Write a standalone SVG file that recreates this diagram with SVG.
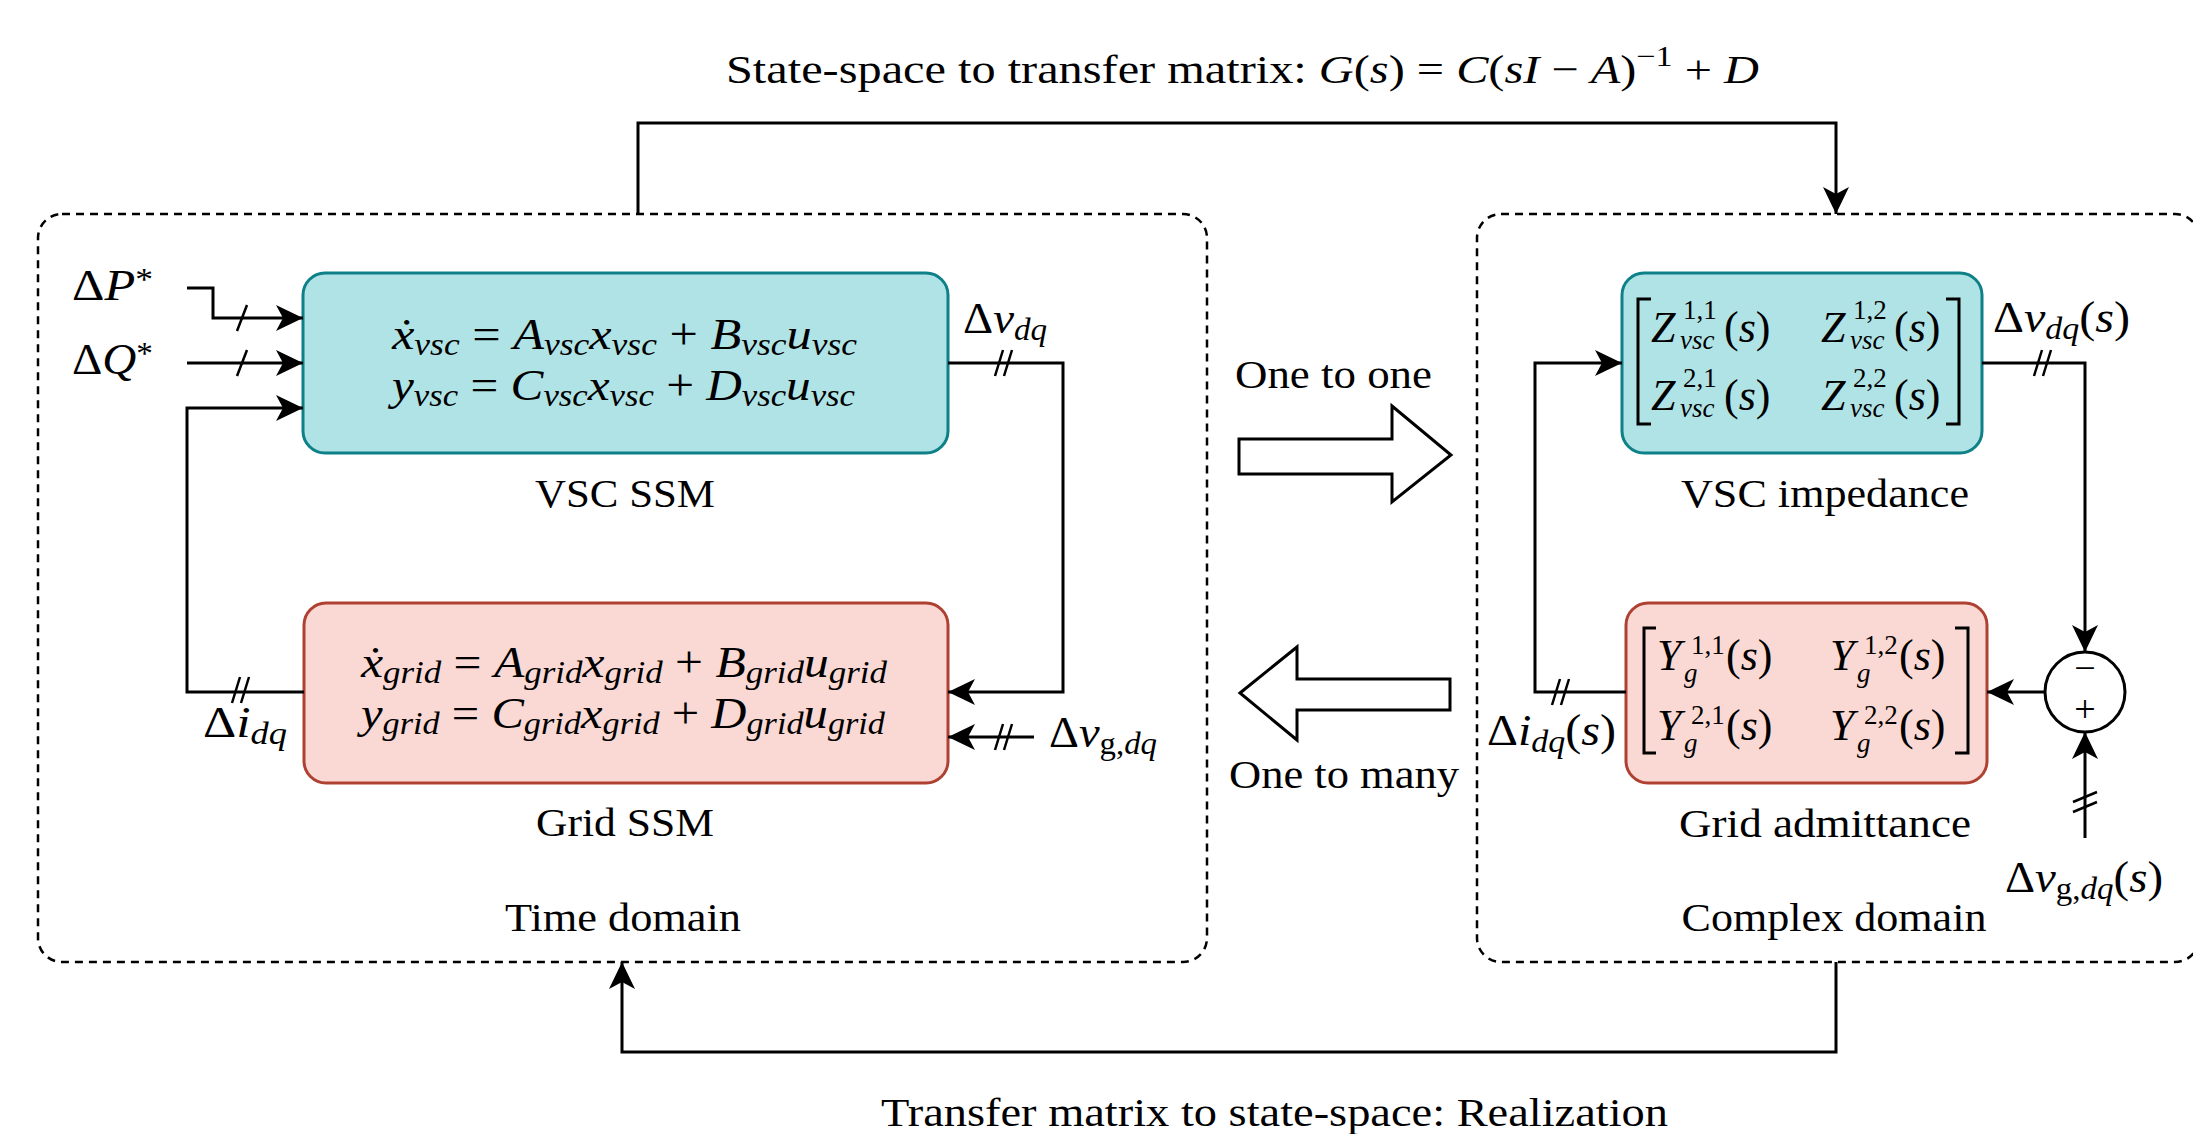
<svg xmlns="http://www.w3.org/2000/svg" width="2193" height="1134" viewBox="0 0 2193 1134" font-family="'Liberation Serif', 'Times New Roman', 'DejaVu Serif', serif">
<style>
.t{font-family:'Liberation Serif','Times New Roman','DejaVu Serif',serif;fill:#000}
.lbl{font-size:41px}
.m{font-size:44px}
.i{font-style:italic}
.s{font-size:31px}
.ss{font-size:27px}
.sp{font-size:29px}
.cont{fill:none;stroke:#000;stroke-width:2.5;stroke-dasharray:8 6}
.vsc{fill:#b0e3e6;stroke:#0e8088;stroke-width:3}
.grid{fill:#fad9d5;stroke:#ae4132;stroke-width:3}
.c{fill:none;stroke:#000;stroke-width:3;marker-end:url(#ah)}
.tick{fill:none;stroke:#000;stroke-width:2.5}
.br{fill:none;stroke:#000;stroke-width:3}
.blk{fill:#fff;stroke:#000;stroke-width:3;stroke-linejoin:miter}
</style>
<defs>
<marker id="ah" viewBox="-30 -15 32 30" markerWidth="32" markerHeight="30" refX="0" refY="0" orient="auto" markerUnits="userSpaceOnUse" overflow="visible">
<path d="M0,0 L-27,-13 L-20,0 L-27,13 Z" fill="#000"/>
</marker>
</defs>
<rect width="2193" height="1134" fill="#fff"/>

<g id="titles">
<text class="t lbl" x="726" y="83" textLength="1033" lengthAdjust="spacingAndGlyphs">State-space to transfer matrix:  <tspan class="i">G</tspan>(<tspan class="i">s</tspan>) = <tspan class="i">C</tspan>(<tspan class="i">sI</tspan> − <tspan class="i">A</tspan>)<tspan class="sp" dy="-17">−1</tspan><tspan dy="17"> + </tspan><tspan class="i">D</tspan></text>
<text class="t lbl" x="881" y="1126" textLength="787" lengthAdjust="spacingAndGlyphs">Transfer matrix to state-space:  Realization</text>
</g>

<g id="time-domain">
<rect class="cont" x="38" y="214" width="1169" height="748" rx="24"/>
<text class="t lbl" x="623" y="931" text-anchor="middle" textLength="236" lengthAdjust="spacingAndGlyphs">Time domain</text>
</g>

<g id="complex-domain">
<rect class="cont" x="1477" y="214" width="722" height="748" rx="24"/>
<text class="t lbl" x="1834" y="931" text-anchor="middle" textLength="305" lengthAdjust="spacingAndGlyphs">Complex domain</text>
</g>

<g id="vsc-ssm">
<rect class="vsc" x="303" y="273" width="645" height="180" rx="22"/>
<text class="t m" x="392" y="349" textLength="465" lengthAdjust="spacingAndGlyphs"><tspan class="i">ẋ</tspan><tspan class="i s" dy="6">vsc</tspan><tspan dy="-6"> = </tspan><tspan class="i">A</tspan><tspan class="i s" dy="6">vsc</tspan><tspan class="i" dy="-6">x</tspan><tspan class="i s" dy="6">vsc</tspan><tspan dy="-6"> + </tspan><tspan class="i">B</tspan><tspan class="i s" dy="6">vsc</tspan><tspan class="i" dy="-6">u</tspan><tspan class="i s" dy="6">vsc</tspan></text>
<text class="t m" x="392" y="400" textLength="463" lengthAdjust="spacingAndGlyphs"><tspan class="i">y</tspan><tspan class="i s" dy="6">vsc</tspan><tspan dy="-6"> = </tspan><tspan class="i">C</tspan><tspan class="i s" dy="6">vsc</tspan><tspan class="i" dy="-6">x</tspan><tspan class="i s" dy="6">vsc</tspan><tspan dy="-6"> + </tspan><tspan class="i">D</tspan><tspan class="i s" dy="6">vsc</tspan><tspan class="i" dy="-6">u</tspan><tspan class="i s" dy="6">vsc</tspan></text>
<text class="t lbl" x="625" y="507" text-anchor="middle" textLength="180" lengthAdjust="spacingAndGlyphs">VSC SSM</text>
</g>

<g id="grid-ssm">
<rect class="grid" x="304" y="603" width="644" height="180" rx="22"/>
<text class="t m" x="361" y="677" textLength="526" lengthAdjust="spacingAndGlyphs"><tspan class="i">ẋ</tspan><tspan class="i s" dy="6">grid</tspan><tspan dy="-6"> = </tspan><tspan class="i">A</tspan><tspan class="i s" dy="6">grid</tspan><tspan class="i" dy="-6">x</tspan><tspan class="i s" dy="6">grid</tspan><tspan dy="-6"> + </tspan><tspan class="i">B</tspan><tspan class="i s" dy="6">grid</tspan><tspan class="i" dy="-6">u</tspan><tspan class="i s" dy="6">grid</tspan></text>
<text class="t m" x="361" y="728" textLength="524" lengthAdjust="spacingAndGlyphs"><tspan class="i">y</tspan><tspan class="i s" dy="6">grid</tspan><tspan dy="-6"> = </tspan><tspan class="i">C</tspan><tspan class="i s" dy="6">grid</tspan><tspan class="i" dy="-6">x</tspan><tspan class="i s" dy="6">grid</tspan><tspan dy="-6"> + </tspan><tspan class="i">D</tspan><tspan class="i s" dy="6">grid</tspan><tspan class="i" dy="-6">u</tspan><tspan class="i s" dy="6">grid</tspan></text>
<text class="t lbl" x="625" y="836" text-anchor="middle" textLength="178" lengthAdjust="spacingAndGlyphs">Grid SSM</text>
</g>

<g id="vsc-impedance">
<rect class="vsc" x="1622" y="273" width="360" height="180" rx="22"/>
<path class="br" d="M1651,299 H1638 V424 H1651 M1946,299 H1959 V424 H1946"/>
<text class="t m" x="1651" y="342"><tspan class="i">Z</tspan><tspan class="ss" x="1683" dy="-23">1,1</tspan><tspan class="ss i" x="1680" dy="30">vsc</tspan><tspan x="1724" dy="-7">(</tspan><tspan class="i">s</tspan>)</text>
<text class="t m" x="1821" y="342"><tspan class="i">Z</tspan><tspan class="ss" x="1853" dy="-23">1,2</tspan><tspan class="ss i" x="1850" dy="30">vsc</tspan><tspan x="1894" dy="-7">(</tspan><tspan class="i">s</tspan>)</text>
<text class="t m" x="1651" y="410"><tspan class="i">Z</tspan><tspan class="ss" x="1683" dy="-23">2,1</tspan><tspan class="ss i" x="1680" dy="30">vsc</tspan><tspan x="1724" dy="-7">(</tspan><tspan class="i">s</tspan>)</text>
<text class="t m" x="1821" y="410"><tspan class="i">Z</tspan><tspan class="ss" x="1853" dy="-23">2,2</tspan><tspan class="ss i" x="1850" dy="30">vsc</tspan><tspan x="1894" dy="-7">(</tspan><tspan class="i">s</tspan>)</text>
<text class="t lbl" x="1825" y="507" text-anchor="middle" textLength="288" lengthAdjust="spacingAndGlyphs">VSC impedance</text>
</g>

<g id="grid-admittance">
<rect class="grid" x="1626" y="603" width="361" height="180" rx="22"/>
<path class="br" d="M1656,628 H1644 V753 H1656 M1955,628 H1968 V753 H1955"/>
<text class="t m" x="1657" y="670"><tspan class="i">Y</tspan><tspan class="ss" x="1691" dy="-16">1,1</tspan><tspan class="ss i" x="1684" dy="28">g</tspan><tspan x="1726" dy="-12">(</tspan><tspan class="i">s</tspan>)</text>
<text class="t m" x="1830" y="670"><tspan class="i">Y</tspan><tspan class="ss" x="1864" dy="-16">1,2</tspan><tspan class="ss i" x="1857" dy="28">g</tspan><tspan x="1899" dy="-12">(</tspan><tspan class="i">s</tspan>)</text>
<text class="t m" x="1657" y="740"><tspan class="i">Y</tspan><tspan class="ss" x="1691" dy="-16">2,1</tspan><tspan class="ss i" x="1684" dy="28">g</tspan><tspan x="1726" dy="-12">(</tspan><tspan class="i">s</tspan>)</text>
<text class="t m" x="1830" y="740"><tspan class="i">Y</tspan><tspan class="ss" x="1864" dy="-16">2,2</tspan><tspan class="ss i" x="1857" dy="28">g</tspan><tspan x="1899" dy="-12">(</tspan><tspan class="i">s</tspan>)</text>
<text class="t lbl" x="1825" y="837" text-anchor="middle" textLength="292" lengthAdjust="spacingAndGlyphs">Grid admittance</text>
</g>

<g id="sum-junction">
<circle cx="2085" cy="692" r="40" fill="#fff" stroke="#000" stroke-width="3"/>
<text class="t" x="2085" y="681" font-size="38" text-anchor="middle">−</text>
<text class="t" x="2085" y="722" font-size="38" text-anchor="middle">+</text>
</g>

<g id="one-to-one">
<polygon class="blk" points="1239,439 1392,439 1392,406 1451,455 1392,502 1392,474 1239,474"/>
<text class="t lbl" x="1235" y="388" textLength="197" lengthAdjust="spacingAndGlyphs">One to one</text>
</g>

<g id="one-to-many">
<polygon class="blk" points="1240,693 1297,647 1297,679 1450,679 1450,710 1297,710 1297,740"/>
<text class="t lbl" x="1229" y="788" textLength="230" lengthAdjust="spacingAndGlyphs">One to many</text>
</g>

<g id="connectors">
<path class="c" d="M187,288 H213 V318 H303"/>
<path class="c" d="M187,363 H303"/>
<path class="c" d="M304,692 H187 V408 H303"/>
<path class="c" d="M948,363 H1063 V692 H948"/>
<path class="c" d="M1034,737 H948"/>
<path class="c" d="M638,214 V123 H1836 V214"/>
<path class="c" d="M1836,962 V1052 H622 V962"/>
<path class="c" d="M1982,363 H2085 V652"/>
<path class="c" d="M2045,692 H1987"/>
<path class="c" d="M2085,838 V732"/>
<path class="c" d="M1626,692 H1535 V363 H1622"/>
<path class="tick" d="M237,331 L247,305 M237,376 L247,350"/>
<path class="tick" d="M995,376 L1003,350 M1004,376 L1012,350"/>
<path class="tick" d="M995,750 L1003,724 M1004,750 L1012,724"/>
<path class="tick" d="M232,703 L240,677 M241,703 L249,677"/>
<path class="tick" d="M2034,376 L2042,350 M2043,376 L2051,350"/>
<path class="tick" d="M1552,705 L1560,679 M1561,705 L1569,679"/>
<path class="tick" d="M2073,802 L2097,792 M2073,812 L2097,802"/>
</g>

<g id="signal-labels">
<text class="t m" x="72" y="300" textLength="81" lengthAdjust="spacingAndGlyphs">Δ<tspan class="i">P</tspan><tspan class="s" dy="-10">*</tspan></text>
<text class="t m" x="72" y="374" textLength="81" lengthAdjust="spacingAndGlyphs">Δ<tspan class="i">Q</tspan><tspan class="s" dy="-10">*</tspan></text>
<text class="t m" x="963" y="333" textLength="84" lengthAdjust="spacingAndGlyphs">Δ<tspan class="i">v</tspan><tspan class="i s" dy="7">dq</tspan></text>
<text class="t m" x="1049" y="747" textLength="108" lengthAdjust="spacingAndGlyphs">Δ<tspan class="i">v</tspan><tspan class="s" dy="7">g,</tspan><tspan class="i s">dq</tspan></text>
<text class="t m" x="203" y="737" textLength="84" lengthAdjust="spacingAndGlyphs">Δ<tspan class="i">i</tspan><tspan class="i s" dy="7">dq</tspan></text>
<text class="t m" x="1993" y="332" textLength="137" lengthAdjust="spacingAndGlyphs">Δ<tspan class="i">v</tspan><tspan class="i s" dy="7">dq</tspan><tspan dy="-7">(</tspan><tspan class="i">s</tspan>)</text>
<text class="t m" x="1487" y="745" textLength="129" lengthAdjust="spacingAndGlyphs">Δ<tspan class="i">i</tspan><tspan class="i s" dy="7">dq</tspan><tspan dy="-7">(</tspan><tspan class="i">s</tspan>)</text>
<text class="t m" x="2005" y="892" textLength="158" lengthAdjust="spacingAndGlyphs">Δ<tspan class="i">v</tspan><tspan class="s" dy="7">g,</tspan><tspan class="i s">dq</tspan><tspan dy="-7">(</tspan><tspan class="i">s</tspan>)</text>
</g>
</svg>
